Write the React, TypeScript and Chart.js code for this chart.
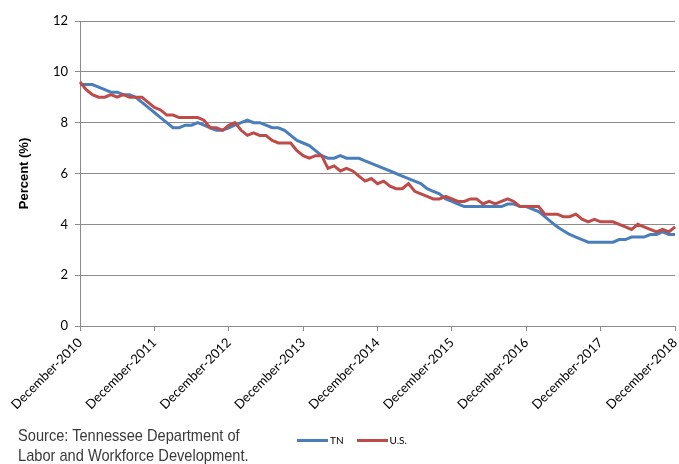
import React, { useEffect, useRef } from 'react';
import { Chart, registerables } from 'chart.js';

Chart.register(...registerables);

const monthNames = ['December', 'January', 'February', 'March', 'April', 'May', 'June', 'July', 'August', 'September', 'October', 'November'];
const startYear = 2010;
const monthCount = 97;

const tickLabels = ['December-2010', 'December-2011', 'December-2012', 'December-2013', 'December-2014', 'December-2015', 'December-2016', 'December-2017', 'December-2018'];

const categories: string[] = [];
for (let i = 0; i < monthCount; i++) {
  const year = startYear + Math.ceil(i / 12);
  categories.push(`${monthNames[i % 12]}-${year}`);
}

const tnValues = [
  9.5, 9.5, 9.5, 9.4, 9.3, 9.2, 9.2, 9.1, 9.1, 9.0, 8.8, 8.6,
  8.4, 8.2, 8.0, 7.8, 7.8, 7.9, 7.9, 8.0, 7.9, 7.8, 7.7, 7.7,
  7.8, 7.9, 8.0, 8.1, 8.0, 8.0, 7.9, 7.8, 7.8, 7.7, 7.5, 7.3,
  7.2, 7.1, 6.9, 6.7, 6.6, 6.6, 6.7, 6.6, 6.6, 6.6, 6.5, 6.4,
  6.3, 6.2, 6.1, 6.0, 5.9, 5.8, 5.7, 5.6, 5.4, 5.3, 5.2, 5.0,
  4.9, 4.8, 4.7, 4.7, 4.7, 4.7, 4.7, 4.7, 4.7, 4.8, 4.8, 4.7,
  4.7, 4.6, 4.5, 4.3, 4.1, 3.9, 3.75, 3.6, 3.5, 3.4, 3.3, 3.3,
  3.3, 3.3, 3.3, 3.4, 3.4, 3.5, 3.5, 3.5, 3.6, 3.6, 3.7, 3.6,
  3.6,
];

const usValues = [
  9.6, 9.3, 9.1, 9.0, 9.0, 9.1, 9.0, 9.1, 9.0, 9.0, 9.0, 8.8,
  8.6, 8.5, 8.3, 8.3, 8.2, 8.2, 8.2, 8.2, 8.1, 7.8, 7.8, 7.7,
  7.9, 8.0, 7.7, 7.5, 7.6, 7.5, 7.5, 7.3, 7.2, 7.2, 7.2, 6.9,
  6.7, 6.6, 6.7, 6.7, 6.2, 6.3, 6.1, 6.2, 6.1, 5.9, 5.7, 5.8,
  5.6, 5.7, 5.5, 5.4, 5.4, 5.6, 5.3, 5.2, 5.1, 5.0, 5.0, 5.1,
  5.0, 4.9, 4.9, 5.0, 5.0, 4.8, 4.9, 4.8, 4.9, 5.0, 4.9, 4.7,
  4.7, 4.7, 4.7, 4.4, 4.4, 4.4, 4.3, 4.3, 4.4, 4.2, 4.1, 4.2,
  4.1, 4.1, 4.1, 4.0, 3.9, 3.8, 4.0, 3.9, 3.8, 3.7, 3.8, 3.7,
  3.9,
];

const yTicks = [0, 2, 4, 6, 8, 10, 12];

const TN_COLOR = '#4A7EBB';
const US_COLOR = '#BE4B48';

export default function App() {
  const canvasRef = useRef<HTMLCanvasElement>(null);

  useEffect(() => {
    const canvas = canvasRef.current;
    if (!canvas) return;
    const chart = new Chart(canvas, {
      type: 'line',
      data: {
        labels: categories,
        datasets: [
          {
            label: 'TN',
            data: tnValues,
            borderColor: TN_COLOR,
            backgroundColor: TN_COLOR,
            borderWidth: 3,
            pointRadius: 0,
            tension: 0,
            order: 2,
          },
          {
            label: 'U.S.',
            data: usValues,
            borderColor: US_COLOR,
            backgroundColor: US_COLOR,
            borderWidth: 3,
            pointRadius: 0,
            tension: 0,
            order: 1,
          },
        ],
      },
      options: {
        animation: false,
        responsive: false,
        maintainAspectRatio: false,
        layout: { padding: { top: 21, right: 4, left: 0, bottom: 0 } },
        plugins: {
          legend: { display: false },
          tooltip: { enabled: false },
        },
        scales: {
          x: {
            type: 'category',
            offset: false,
            afterBuildTicks: (scale: any) => {
              scale.ticks = scale.ticks.filter((t: any) => tickLabels.includes(categories[t.value]));
            },
            afterFit: (scale: any) => {
              scale.height = 138;
              scale.paddingLeft = 0;
              scale.paddingRight = 0;
            },
            grid: {
              drawOnChartArea: false,
              drawTicks: true,
              tickLength: 5,
              color: '#8c8c8c',
            },
            border: { display: true, color: '#8c8c8c', width: 1 },
            ticks: {
              autoSkip: false,
              minRotation: 45,
              maxRotation: 45,
              padding: 4,
              color: '#000',
              font: { family: 'Lato, "Liberation Sans", sans-serif', size: 13 },
            },
          },
          y: {
            min: 0,
            max: 12,
            afterBuildTicks: (scale: any) => {
              scale.ticks = yTicks.map((v) => ({ value: v }));
            },
            afterFit: (scale: any) => {
              scale.width = 80;
            },
            grid: {
              drawTicks: true,
              tickLength: 5,
              color: '#8c8c8c',
              lineWidth: 1,
            },
            border: { display: true, color: '#8c8c8c', width: 1 },
            ticks: {
              padding: 7,
              color: '#000',
              font: { family: 'Lato, "Liberation Sans", sans-serif', size: 13 },
            },
            title: {
              display: true,
              text: 'Percent (%)',
              color: '#000',
              font: { family: '"Liberation Sans", Arial, sans-serif', size: 13, weight: 'bold' },
              padding: { top: 17, bottom: 0 },
            },
          },
        },
      },
    } as any);
    return () => chart.destroy();
  }, []);

  return (
    <div style={{ position: 'absolute', left: 0, top: 0, width: 679, height: 464, background: '#fff', overflow: 'hidden' }}>
      <canvas ref={canvasRef} width={679} height={464} style={{ display: 'block', width: 679, height: 464 }} />
      <div
        style={{
          position: 'absolute',
          left: 18,
          top: 426,
          fontFamily: '"Liberation Sans", Arial, sans-serif',
          fontSize: 17,
          lineHeight: '20px',
          color: '#3a3a3a',
          whiteSpace: 'nowrap',
          transform: 'scaleX(0.86)',
          transformOrigin: 'left top',
        }}
      >
        <div>Source: Tennessee Department of</div>
        <div>Labor and Workforce Development.</div>
      </div>
      <div
        style={{
          position: 'absolute',
          left: 297,
          top: 434,
          display: 'flex',
          alignItems: 'center',
          fontFamily: 'Lato, "Liberation Sans", sans-serif',
          fontSize: 10,
          color: '#000',
          whiteSpace: 'nowrap',
        }}
      >
        <span style={{ display: 'inline-block', width: 31, height: 3, background: TN_COLOR, marginRight: 2 }} />
        <span style={{ marginRight: 13 }}>TN</span>
        <span style={{ display: 'inline-block', width: 31, height: 3, background: US_COLOR, marginRight: 2 }} />
        <span>U.S.</span>
      </div>
    </div>
  );
}
